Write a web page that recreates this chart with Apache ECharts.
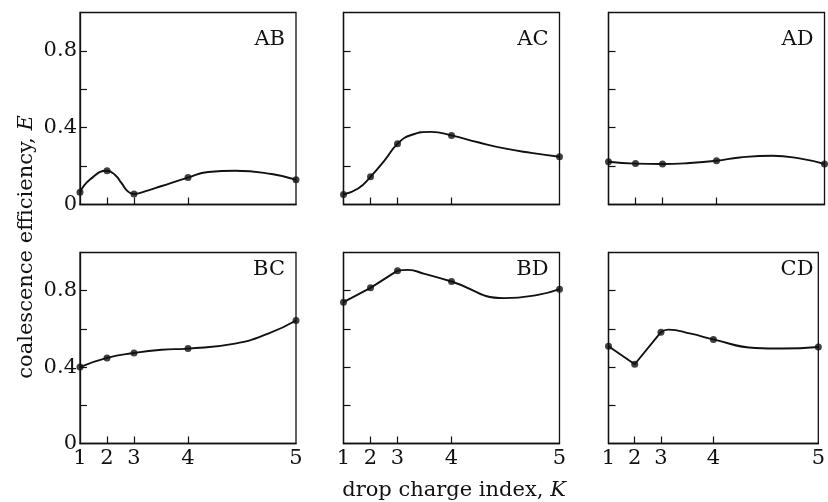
<!DOCTYPE html>
<html><head><meta charset="utf-8">
<script src="https://cdn.jsdelivr.net/npm/echarts@6/dist/echarts.min.js"></script>
<style>html,body{margin:0;padding:0;background:#fff}#c{width:828px;height:502px}</style>
</head><body><div id="c"></div>
<script>
// ---- data ----
const kLabels = ['1', '2', '3', '4', '5'];
const kAxisValue = [0, 1, 2, 4, 8];          // non-linear horizontal scale used for K
const yTickValues = [0.2, 0.4, 0.6, 0.8];
const yLabelValues = [0, 0.4, 0.8];
const panelNames = ['AB', 'AC', 'AD', 'BC', 'BD', 'CD'];

// measured efficiencies at K = 1..5
const abE = [0.064, 0.176, 0.055, 0.140, 0.129];
const acE = [0.052, 0.144, 0.316, 0.360, 0.249];
const adE = [0.223, 0.213, 0.211, 0.228, 0.211];
const bcE = [0.400, 0.448, 0.474, 0.497, 0.644];
const bdE = [0.740, 0.815, 0.905, 0.848, 0.808];
const cdE = [0.509, 0.415, 0.583, 0.545, 0.505];

// traced fitted curves (axis value, E)
const abCurveX = [0, 0.37, 1, 1.3, 1.54, 1.78, 2, 2.53, 3, 4, 4.75, 5.74, 7.1, 8];
const abCurveE = [0.064, 0.13, 0.176, 0.154, 0.111, 0.067, 0.055, 0.074, 0.095, 0.140, 0.169, 0.176, 0.159, 0.129];
const acCurveX = [0, 0.54, 1, 1.53, 2, 2.51, 3.25, 4, 4.98, 5.96, 6.95, 8];
const acCurveE = [0.052, 0.083, 0.144, 0.231, 0.316, 0.362, 0.378, 0.360, 0.324, 0.292, 0.269, 0.249];
const adCurveX = [0, 1, 2, 3, 4, 4.86, 6.08, 7.07, 8];
const adCurveE = [0.223, 0.213, 0.211, 0.216, 0.228, 0.245, 0.254, 0.240, 0.211];
const bcCurveX = [0, 1, 2, 3.02, 4, 5.74, 6.97, 8];
const bcCurveE = [0.400, 0.448, 0.474, 0.491, 0.497, 0.523, 0.575, 0.644];
const bdStraightX = [0, 1, 2];
const bdStraightE = [0.740, 0.815, 0.905];
const bdCurveX = [2, 2.39, 3, 4, 5.96, 7.2, 8];
const bdCurveE = [0.905, 0.909, 0.888, 0.848, 0.761, 0.778, 0.808];
const cdStraightX = [0, 1, 2];
const cdStraightE = [0.509, 0.415, 0.583];
const cdCurveX = [2, 2.28, 3.14, 4, 5.6, 6.6, 8];
const cdCurveE = [0.583, 0.596, 0.575, 0.545, 0.500, 0.497, 0.505];

// ---- layout ----
const FONT = 'DejaVu Serif';
const FS = 21;
const colLeft = [80, 343.5, 608.5];
const colWidth = 216;
const rowTop = [12.5, 252.5];
const rowHeight = [192, 191];

const pointsOf = [abE, acE, adE, bcE, bdE, cdE];
const curvesOf = [
  [[abCurveX, abCurveE, true]],
  [[acCurveX, acCurveE, true]],
  [[adCurveX, adCurveE, true]],
  [[bcCurveX, bcCurveE, true]],
  [[bdStraightX, bdStraightE, false], [bdCurveX, bdCurveE, true]],
  [[cdStraightX, cdStraightE, false], [cdCurveX, cdCurveE, true]]
];
const zip = (xs, ys) => xs.map((x, i) => [x, ys[i]]);

const grid = [], xAxis = [], yAxis = [], series = [], graphic = [];
for (let p = 0; p < 6; p++) {
  const r = Math.floor(p / 3), c = p % 3;
  grid.push({
    left: colLeft[c], top: rowTop[r], width: colWidth, height: rowHeight[r],
    show: true, borderColor: '#111', borderWidth: 1.3, backgroundColor: 'transparent'
  });
  xAxis.push({
    type: 'value', gridIndex: p, min: 0, max: 8,
    axisLine: { show: true, lineStyle: { color: '#111', width: 1.3 } },
    axisTick: { show: true, inside: true, length: 7, customValues: kAxisValue.slice(1, 4), lineStyle: { color: '#111', width: 1.2 } },
    axisLabel: {
      show: r === 1, customValues: kAxisValue, margin: 5,
      formatter: v => kLabels[kAxisValue.indexOf(v)],
      color: '#111', fontFamily: FONT, fontSize: FS
    },
    splitLine: { show: false }
  });
  yAxis.push({
    type: 'value', gridIndex: p, min: 0, max: 1, interval: 0.2,
    axisLine: { show: true, lineStyle: { color: '#111', width: 1.3 } },
    axisTick: { show: true, inside: true, length: 7, customValues: yTickValues, lineStyle: { color: '#111', width: 1.2 } },
    axisLabel: {
      show: c === 0, customValues: yLabelValues, margin: 3,
      formatter: v => (v === 0 ? '0' : v.toFixed(1)),
      color: '#111', fontFamily: FONT, fontSize: FS
    },
    splitLine: { show: false }
  });
  curvesOf[p].forEach(([xs, ys, smooth]) => {
    series.push({
      type: 'line', xAxisIndex: p, yAxisIndex: p, data: zip(xs, ys),
      smooth: smooth ? 0.5 : false, showSymbol: false, silent: true,
      lineStyle: { color: '#111', width: 1.9 }
    });
  });
  series.push({
    type: 'scatter', xAxisIndex: p, yAxisIndex: p, data: zip(kAxisValue, pointsOf[p]),
    symbol: 'circle', symbolSize: 7, itemStyle: { color: '#111' }
  });
  graphic.push({
    type: 'text', right: 828 - (colLeft[c] + colWidth) + 11, top: r === 0 ? 29 : 259,
    style: { text: panelNames[p], font: FS + 'px "' + FONT + '"', fill: '#111' }
  });
}
const rich = {
  n: { fontFamily: FONT, fontSize: FS, fill: '#111' },
  i: { fontFamily: FONT, fontSize: FS, fontStyle: 'italic', fill: '#111' }
};
graphic.push({
  type: 'text', x: 27, y: 247, rotation: Math.PI / 2,
  style: { text: '{n|coalescence efficiency, }{i|E}', align: 'center', verticalAlign: 'middle', rich }
});
graphic.push({
  type: 'text', x: 454, y: 491,
  style: { text: '{n|drop charge index, }{i|K}', align: 'center', verticalAlign: 'middle', rich }
});

const chart = echarts.init(document.getElementById('c'), null, { renderer: 'canvas' });
chart.setOption({ animation: false, backgroundColor: '#fff', grid, xAxis, yAxis, series, graphic });
</script></body></html>
